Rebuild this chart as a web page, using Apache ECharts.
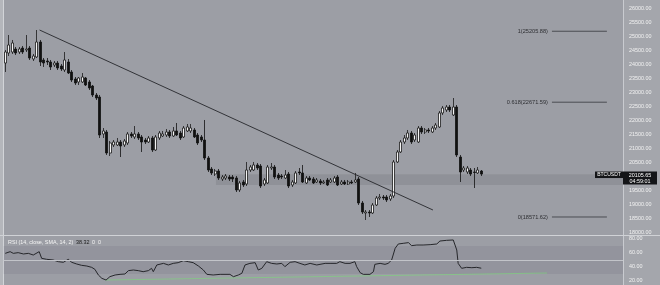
<!DOCTYPE html>
<html><head><meta charset="utf-8">
<script src="https://cdn.jsdelivr.net/npm/echarts@6/dist/echarts.min.js"></script>
<style>html,body{margin:0;padding:0;background:#9c9ea5;overflow:hidden}#c{width:660px;height:285px}</style>
</head><body><div id="c"></div><script>
// ---- data (6h BTCUSDT candles) ----
const opens=[24071,24429,24464,24571,24464,24607,24536,24607,24214,24286,
24821,24179,24143,24107,24000,24071,23964,23821,24107,23750,
23500,23393,23393,23536,23393,23250,22929,22857,21536,21607,
20857,21143,21143,21250,21143,21214,21536,21429,21536,21429,
21321,21250,21393,20964,21393,21464,21500,21607,21464,21643,
21571,21429,21643,21643,21679,21500,21429,21321,20679,20286,
20107,20214,19929,19964,20000,20000,19964,19536,19821,19750,
20250,20250,20429,20393,19750,19786,20321,20357,20071,20036,
19964,20107,19714,19786,20179,20143,19786,19964,19929,19821,
19857,19786,19893,19821,19821,20000,19750,19821,19750,19821,
19821,19929,19071,18714,18750,18714,19000,19250,19286,19286,
19214,19321,20536,20893,21250,21393,21571,21321,21250,21750,
21607,21679,21607,21750,21786,22286,22393,22500,22214,22500,
20714,20250,20179,20250,20179,20143,20214];
const closes=[24464,24714,24786,24429,24571,24464,24571,24250,24321,24821,
24107,24071,24107,23929,24071,23893,23857,24179,23714,23464,
23357,23536,23571,23286,23179,22929,22821,21500,21643,20857,
21214,21250,21250,21107,21286,21536,21464,21536,21393,21250,
21250,21393,20964,21429,21571,21536,21607,21464,21643,21500,
21393,21750,21786,21750,21429,21214,21321,20679,20250,20143,
20214,19964,20000,20036,19929,19929,19536,19786,19714,20250,
20357,20429,20321,19679,19893,20357,20357,20000,19964,20000,
20071,19679,19821,20143,20143,19821,19964,19893,19786,19893,
19786,19821,19714,19893,19964,19714,19821,19750,19821,19786,
19893,19071,18750,18750,18714,19000,19250,19286,19250,19179,
19321,20536,20893,21250,21393,21571,21250,21500,21750,21607,
21679,21643,21750,21857,22286,22464,22500,22393,22500,20786,
20179,20321,20321,20107,20160,20250,20105.65];
const lows=[23750,24321,24393,24357,24393,24393,24464,24179,24143,24250,
23964,23929,24000,23821,23929,23821,23786,23750,23679,23393,
23286,23286,23357,23250,23107,22857,22750,21393,21393,20786,
20750,21071,21107,20714,21071,21143,21393,21357,21321,20893,
21179,21214,20893,20929,21321,21429,21429,21393,21429,21464,
21321,21393,21607,21571,21393,21143,21250,20607,20179,20071,
20036,19893,19857,19893,19857,19821,19464,19464,19643,19679,
20179,20214,20250,19607,19679,19750,20250,19929,19893,19929,
19929,19607,19643,19750,20071,19786,19750,19857,19750,19786,
19714,19750,19679,19786,19786,19679,19714,19714,19714,19750,
19786,19000,18679,18464,18571,18679,18964,19179,19179,19107,
19143,19250,20500,20857,21179,21321,21179,21250,21214,21536,
21536,21571,21571,21679,21750,22214,22321,22321,22179,20714,
19821,20179,20107,20036,19607,20107,20036];
const highs=[24536,25071,24893,24643,24643,24679,25071,24679,24393,25250,
24893,24250,24250,24179,24143,24143,24036,24464,24214,23821,
23571,23571,23714,23571,23464,23286,23000,22929,21750,21679,
21286,21321,21393,21321,21357,21607,21607,21821,21607,21500,
21393,21464,21464,21500,21643,21643,21714,21679,21786,21929,
21643,21821,21893,21893,21750,21571,21500,22036,20750,20357,
20286,20286,20071,20107,20071,20071,20036,19857,19893,20536,
20429,20536,20500,20464,19964,20429,20500,20429,20143,20107,
20250,20179,19893,20214,20321,20429,20036,20036,20000,19964,
19929,19893,19964,19964,20036,20071,19893,19893,19893,19893,
20143,20000,19143,18821,18821,19071,19321,19393,19357,19357,
19393,20607,20964,21321,21500,21679,21643,21571,21821,21821,
21750,21750,21821,21929,22357,22536,22571,22571,22821,22571,
20786,20393,20393,20321,20321,20357,20250];
// RSI(14) readings: candle index / value
const rsiIdx=[0,1.4,2.3,3.7,5.2,6.6,8,9.7,10.4,11.8,
13.7,15.2,16.6,18,19,20.4,21.8,23.3,24.7,25.6,
26.6,27.6,28.8,29.9,31.4,32.8,34.2,35.2,36.6,38,
39.4,40.9,41.8,42.3,43.3,45.2,46.6,48,49.4,50.9,
52.3,53.7,55.2,56.6,57.6,59.4,61.4,64.2,65.2,65.6,
66.6,67.6,68.5,69.9,71.4,72.3,73.3,74.7,76.1,77.6,
79,79.9,81.4,82.8,84.2,85.6,87.1,89,91.4,92.8,
94.7,95.6,97.1,98.5,99.9,100.4,101.4,102.3,104.2,105.2,
105.6,107.1,108.5,109.4,110.4,111.4,112.3,113.7,115.2,116.1,
117.6,119.4,121.4,123.3,124.2,126.1,128,128.5,129,129.4,
130.4,131.8,133.3,134.7,136];
const rsiVal=[59.5,61.9,59.5,60.5,58.6,59.5,57.1,61.9,52.4,51,
50,47.6,46.7,51,46.7,44.3,42.4,41.4,39.5,36.7,
28.6,23.8,21.4,26.2,28.6,29.5,30,34.8,35.7,34.8,
33.3,34.8,38.1,33.3,42.9,45.2,42.9,45.2,46.2,49,
47.6,46.2,41.4,35.7,29.5,28.6,29.5,29.5,26.2,23.8,
28.6,31,42.9,45.2,46.2,35.7,38.1,47.6,45.2,44.3,
45.2,40.5,46.7,47.6,45.2,42.9,45.2,42.9,45.2,45.2,
45.2,47.6,45.2,45.2,47.6,40.5,31.9,29.5,29.5,33.3,
43.8,45.2,43.8,45.2,50,66.7,72.9,73.8,74.8,70.5,
71.4,71.4,71.9,72.9,77.1,78.1,78.6,79.5,64.3,45.2,
38.1,39.5,39,39.5,38.3];
// drawings
const trendIdx=[9.8,122.2], trendVal=[25250,18821];
const fibNames=['1','0.618','0'];
const fibLevels=[25205.88,22671.59,18571.62];
const fibFrom=156.2, fibTo=171.9;
const zoneIdx=[60.2,176.5], zoneVal=[20096,19714];
const divIdx=[28.5,154.8], divVal=[21.4,31.4];
const priceTicks=[18000,26000,500];
const rsiTicks=[20,80,20];
const symbolName='BTCUSDT', lastPrice=20105.65, countdown='04:59:01';
const rsiTitle='RSI (14, close, SMA, 14, 2)', rsiLast='38.32', rsiExtra=['0','0'];

const N=177;
const FONT='Liberation Sans';
const cats=Array.from({length:N},(_,i)=>String(i));
const candle=opens.map((o,i)=>[o,closes[i],lows[i],highs[i]]);
const chart=echarts.init(document.getElementById('c'),null,{renderer:'canvas'});

const series=[
 {type:'candlestick',xAxisIndex:0,yAxisIndex:0,data:candle,barWidth:2.8,
  itemStyle:{color:'#f4f4f4',color0:'#111',borderColor:'#1b1b1b',borderColor0:'#111',borderWidth:0.8}},
 {type:'line',xAxisIndex:1,yAxisIndex:0,data:trendIdx.map((x,i)=>[x,trendVal[i]]),symbol:'none',
  lineStyle:{color:'#26272b',width:0.9},silent:true,z:3,
  markArea:{silent:true,itemStyle:{color:'rgba(60,62,72,0.13)'},
   data:[[{xAxis:zoneIdx[0],yAxis:zoneVal[0]},{xAxis:zoneIdx[1],yAxis:zoneVal[1]}]]}}
];
fibLevels.forEach((v,k)=>{
 series.push({type:'line',xAxisIndex:1,yAxisIndex:0,silent:true,symbol:'circle',symbolSize:0.1,showSymbol:true,
  lineStyle:{color:'#4a4c52',width:1},itemStyle:{color:'rgba(0,0,0,0)'},
  data:[{value:[fibFrom,v],label:{show:true,position:'left',distance:4,color:'#2e2f33',fontSize:5.6,fontFamily:FONT,
         formatter:fibNames[k]+'('+v.toFixed(2)+')'}},[fibTo,v]]});
});
series.push({type:'line',xAxisIndex:2,yAxisIndex:1,data:rsiIdx.map((x,i)=>[x,rsiVal[i]]),symbol:'none',
  lineStyle:{color:'#26272b',width:1},silent:true,z:4,
  markArea:{silent:true,itemStyle:{color:'rgba(70,70,90,0.10)'},data:[[{yAxis:70},{yAxis:30}]]},
  markLine:{silent:true,symbol:'none',label:{show:false},lineStyle:{color:'#c2c4c9',type:'solid',width:1},data:[{yAxis:50}]}});
series.push({type:'line',xAxisIndex:2,yAxisIndex:1,data:divIdx.map((x,i)=>[x,divVal[i]]),symbol:'none',
  lineStyle:{color:'rgba(130,205,130,0.75)',width:1},silent:true,z:3});

const axisLab={color:'#f2f2f2',fontSize:5.4,fontFamily:FONT,margin:6,formatter:v=>v.toFixed(2)};
chart.setOption({
 animation:false,
 backgroundColor:'#9c9ea5',
 grid:[{left:3.5,right:37,top:9,height:224},{left:3.5,right:37,top:239,height:42}],
 xAxis:[
  {type:'category',gridIndex:0,data:cats,show:false,boundaryGap:true},
  {type:'value',gridIndex:0,min:-0.5,max:N-0.5,show:false},
  {type:'value',gridIndex:1,min:-0.5,max:N-0.5,show:false}],
 yAxis:[
  {type:'value',gridIndex:0,position:'right',min:priceTicks[0],max:priceTicks[1],interval:priceTicks[2],z:5,
   splitLine:{show:false},axisLine:{show:false},axisTick:{show:false},axisLabel:axisLab},
  {type:'value',gridIndex:1,position:'right',min:rsiTicks[0],max:rsiTicks[1],interval:rsiTicks[2],z:5,
   splitLine:{show:false},axisLine:{show:false},axisTick:{show:false},axisLabel:axisLab}],
 series:series
});

const py=chart.convertToPixel({yAxisIndex:0},lastPrice);
const f=s=>s+'px '+FONT;
chart.setOption({graphic:[
 {type:'rect',z:-100,shape:{x:623,y:0,width:37,height:285},style:{fill:'#a4a6ac'}},
 {type:'line',z:-99,shape:{x1:623.5,y1:0,x2:623.5,y2:285},style:{stroke:'#c9cbd0',lineWidth:1}},
 {type:'rect',z:-100,shape:{x:0,y:0,width:3.5,height:285},style:{fill:'#b4b6bb'}},
 {type:'line',z:-99,shape:{x1:3.5,y1:0,x2:3.5,y2:285},style:{stroke:'#d2d4d8',lineWidth:1}},
 {type:'line',z:-99,shape:{x1:0,y1:235.5,x2:660,y2:235.5},style:{stroke:'#d0d2d6',lineWidth:1}},
 {type:'text',z:50,x:8,y:240,style:{text:rsiTitle,fill:'#f4f4f4',font:f(5.4)}},
 {type:'text',z:50,x:76,y:240,style:{text:rsiLast,fill:'#1c1c1c',font:f(5.4)}},
 {type:'text',z:50,x:92,y:240,style:{text:rsiExtra[0],fill:'#f4f4f4',font:f(5.4)}},
 {type:'text',z:50,x:98,y:240,style:{text:rsiExtra[1],fill:'#f4f4f4',font:f(5.4)}},
 {type:'rect',z:50,shape:{x:595,y:py-2.5,width:28,height:6.5},style:{fill:'#141518'}},
 {type:'text',z:51,x:609,y:py+0.8,style:{text:symbolName,fill:'#ffffff',font:f(5),align:'center',verticalAlign:'middle'}},
 {type:'rect',z:50,shape:{x:623,y:py-2.5,width:34,height:13},style:{fill:'#141518'}},
 {type:'text',z:51,x:640,y:py+1,style:{text:lastPrice.toFixed(2),fill:'#ffffff',font:f(5.4),align:'center',verticalAlign:'middle'}},
 {type:'text',z:51,x:640,y:py+7.2,style:{text:countdown,fill:'#ffffff',font:f(5.4),align:'center',verticalAlign:'middle'}}
]});
</script></body></html>
